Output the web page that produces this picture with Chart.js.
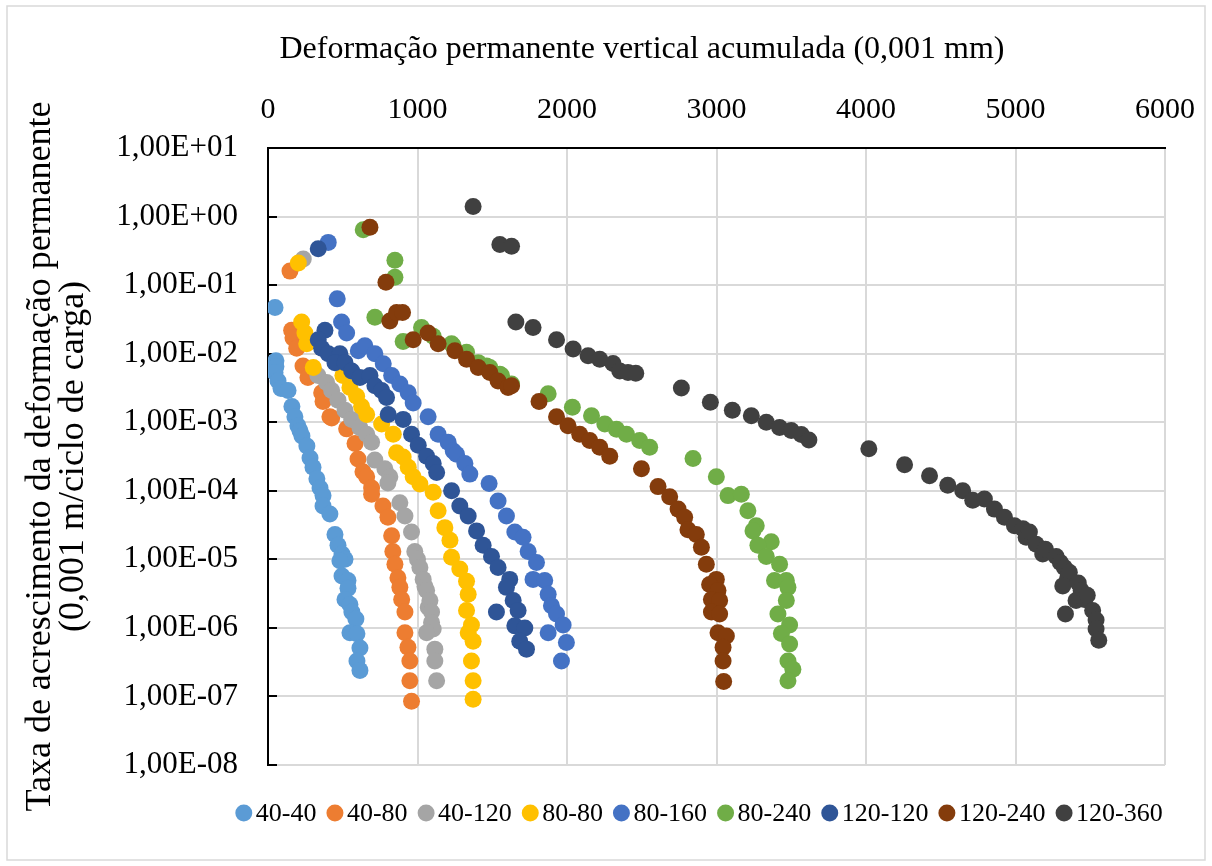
<!DOCTYPE html>
<html lang="pt">
<head>
    <meta charset="UTF-8">
    <title>Taxa de acrescimento da deformação permanente</title>
    <script src="https://cdn.jsdelivr.net/npm/chart.js"></script>
    <style>
        html, body {
            margin: 0;
            padding: 0;
            background: #fff;
        }

        #wrap {
            width: 1212px;
            height: 866px;
        }
    </style>
</head>
<body>
    <div id="wrap">
        <canvas id="chart" width="1212" height="866"></canvas>
    </div>

    <script>
        // Series names and colours (legend order)
        const seriesNames = ['40-40', '40-80', '40-120', '80-80', '80-160', '80-240', '120-120', '120-240', '120-360'];
        const seriesColors = ['#5B9BD5', '#ED7D31', '#A5A5A5', '#FFC000', '#4472C4', '#70AD47', '#2F5597', '#843C0C', '#404040'];

        // Axis ticks
        const xTickValues = [0, 1000, 2000, 3000, 4000, 5000, 6000];
        const xTickLabels = ['0', '1000', '2000', '3000', '4000', '5000', '6000'];
        const yTickValues = [1e-8, 1e-7, 1e-6, 1e-5, 1e-4, 1e-3, 1e-2, 1e-1, 1e0, 1e1];
        const yTickLabels = ['1,00E-08', '1,00E-07', '1,00E-06', '1,00E-05', '1,00E-04', '1,00E-03', '1,00E-02', '1,00E-01', '1,00E+00', '1,00E+01'];

        const xTitle = 'Deformação permanente vertical acumulada (0,001 mm)';
        const yTitle = ['Taxa de acrescimento da deformação permanente', '(0,001 m/ciclo de carga)'];

        // Accumulated deformation (x) and growth rate (y)
        const x40_40 = [47, 53, 53, 47, 67, 87, 134, 160, 180, 200, 214, 227, 260, 281, 301, 327, 348, 368, 368, 414, 448, 468, 495, 515, 481, 495, 535, 535, 515, 548, 561, 588, 548, 595, 615, 595, 615];
        const y40_40 = [4.7e-2, 7.9e-3, 6.5e-3, 5.3e-3, 4.0e-3, 3.1e-3, 2.9e-3, 1.7e-3, 1.2e-3, 8.9e-4, 7.5e-4, 6.3e-4, 4.5e-4, 3.0e-4, 2.2e-4, 1.5e-4, 1.1e-4, 8.5e-5, 6.0e-5, 4.6e-5, 2.3e-5, 1.6e-5, 1.2e-5, 1.0e-5, 9.5e-6, 5.7e-6, 4.9e-6, 3.8e-6, 2.6e-6, 2.2e-6, 1.7e-6, 1.35e-6, 8.5e-7, 8.2e-7, 5.1e-7, 3.3e-7, 2.4e-7];

        const x40_80 = [147, 158, 167, 192, 234, 267, 359, 368, 414, 426, 526, 582, 602, 635, 660, 693, 693, 769, 802, 827, 835, 849, 869, 882, 894, 916, 916, 936, 949, 949, 960];
        const y40_80 = [1.6e-1, 2.2e-2, 1.7e-2, 1.2e-2, 6.6e-3, 4.5e-3, 2.7e-3, 2.0e-3, 1.2e-3, 1.15e-3, 8.0e-4, 4.9e-4, 2.9e-4, 1.9e-4, 1.6e-4, 1.1e-4, 8.9e-5, 6.0e-5, 4.1e-5, 2.2e-5, 1.3e-5, 8.5e-6, 5.4e-6, 3.9e-6, 2.6e-6, 1.7e-6, 8.5e-7, 5.2e-7, 3.3e-7, 1.7e-7, 8.5e-8];

        const x40_120 = [236, 334, 392, 426, 468, 515, 560, 615, 660, 693, 715, 782, 815, 802, 882, 916, 960, 982, 1000, 1016, 1038, 1050, 1061, 1072, 1083, 1094, 1094, 1105, 1061, 1116, 1116, 1128];
        const y40_120 = [2.4e-1, 4.8e-3, 3.8e-3, 2.9e-3, 2.1e-3, 1.5e-3, 1.1e-3, 8.3e-4, 6.7e-4, 5.1e-4, 2.8e-4, 2.1e-4, 1.6e-4, 1.3e-4, 6.7e-5, 4.3e-5, 2.5e-5, 1.3e-5, 1.0e-5, 7.6e-6, 5.1e-6, 4.0e-6, 3.5e-6, 2.0e-6, 2.5e-6, 1.7e-6, 1.2e-6, 9.6e-7, 8.5e-7, 4.9e-7, 3.3e-7, 1.7e-7];

        const x80_80 = [203, 225, 247, 259, 303, 501, 548, 593, 626, 660, 760, 838, 860, 904, 938, 971, 1016, 1105, 1138, 1183, 1217, 1228, 1283, 1328, 1339, 1328, 1361, 1339, 1372, 1361, 1372, 1372];
        const y80_80 = [2.1e-1, 2.9e-2, 2.0e-2, 1.4e-2, 6.3e-3, 4.8e-3, 3.2e-3, 2.4e-3, 1.7e-3, 1.3e-3, 9.4e-4, 6.7e-4, 3.6e-4, 3.1e-4, 2.2e-4, 1.6e-4, 1.26e-4, 9.5e-5, 5.1e-5, 2.9e-5, 1.9e-5, 1.07e-5, 7.2e-6, 4.8e-6, 3.1e-6, 1.8e-6, 1.1e-6, 8.5e-7, 6.4e-7, 3.3e-7, 1.7e-7, 9.1e-8];

        const x80_160 = [403, 463, 492, 526, 604, 648, 715, 771, 827, 882, 938, 971, 1071, 1138, 1205, 1239, 1261, 1317, 1350, 1479, 1539, 1595, 1651, 1706, 1740, 1796, 1773, 1851, 1874, 1896, 1930, 1974, 1874, 1996, 1963];
        const y80_160 = [4.2e-1, 6.3e-2, 2.9e-2, 2.0e-2, 1.1e-2, 1.3e-2, 1.0e-2, 7.1e-3, 4.8e-3, 3.6e-3, 2.7e-3, 1.9e-3, 1.2e-3, 6.7e-4, 5.1e-4, 3.8e-4, 3.4e-4, 2.5e-4, 1.75e-4, 1.28e-4, 7.1e-5, 4.3e-5, 2.5e-5, 2.1e-5, 1.3e-5, 9.0e-6, 5.1e-6, 4.9e-6, 3.1e-6, 2.1e-6, 1.6e-6, 1.1e-6, 8.5e-7, 6.1e-7, 3.3e-7];

        const x80_240 = [637, 849, 849, 715, 904, 1027, 1105, 1228, 1239, 1328, 1406, 1462, 1484, 1551, 1562, 1629, 1874, 2036, 2164, 2253, 2331, 2398, 2486, 2553, 2843, 2999, 3077, 3166, 3210, 3266, 3244, 3366, 3277, 3333, 3422, 3388, 3467, 3478, 3467, 3411, 3489, 3434, 3489, 3478, 3511, 3478];
        const y80_240 = [6.4e-1, 2.3e-1, 1.3e-1, 3.4e-2, 1.5e-2, 2.4e-2, 1.8e-2, 1.4e-2, 1.3e-2, 1.05e-2, 7.4e-3, 6.6e-3, 6.3e-3, 5.0e-3, 4.8e-3, 3.6e-3, 2.6e-3, 1.65e-3, 1.24e-3, 9.4e-4, 7.9e-4, 6.7e-4, 5.4e-4, 4.3e-4, 2.96e-4, 1.6e-4, 8.5e-5, 8.9e-5, 5.1e-5, 3.1e-5, 2.6e-5, 1.8e-5, 1.6e-5, 1.1e-5, 8.5e-6, 4.9e-6, 4.9e-6, 3.9e-6, 2.5e-6, 1.6e-6, 1.1e-6, 8.3e-7, 5.8e-7, 3.3e-7, 2.5e-7, 1.7e-7];

        const x120_120 = [336, 381, 336, 359, 403, 481, 448, 515, 560, 615, 682, 715, 760, 793, 804, 904, 960, 1005, 1061, 1105, 1128, 1228, 1283, 1339, 1395, 1439, 1495, 1539, 1617, 1595, 1640, 1528, 1673, 1651, 1718, 1684, 1729];
        const y120_120 = [3.4e-1, 2.2e-2, 1.6e-2, 1.2e-2, 1.0e-2, 1.0e-2, 7.4e-3, 7.4e-3, 5.6e-3, 4.5e-3, 4.8e-3, 3.4e-3, 2.9e-3, 2.3e-3, 1.3e-3, 1.1e-3, 6.7e-4, 4.6e-4, 3.2e-4, 2.5e-4, 1.85e-4, 1.0e-4, 6.0e-5, 4.3e-5, 2.6e-5, 1.6e-5, 1.1e-5, 7.6e-6, 5.1e-6, 3.9e-6, 2.5e-6, 1.7e-6, 1.8e-6, 1.07e-6, 1.0e-6, 6.4e-7, 4.9e-7];

        const x120_240 = [682, 789, 815, 860, 900, 971, 1071, 1138, 1250, 1328, 1406, 1484, 1539, 1606, 1629, 1813, 1930, 2007, 2085, 2152, 2219, 2286, 2498, 2609, 2687, 2743, 2787, 2809, 2865, 2899, 2932, 2999, 2954, 3010, 2966, 3021, 2966, 3021, 3010, 3066, 3044, 3044, 3048];
        const y120_240 = [7.0e-1, 1.1e-1, 3.0e-2, 4.0e-2, 4.0e-2, 1.6e-2, 2.0e-2, 1.4e-2, 1.1e-2, 8.3e-3, 6.3e-3, 5.3e-3, 4.0e-3, 3.2e-3, 3.4e-3, 2.0e-3, 1.2e-3, 8.9e-4, 6.7e-4, 5.4e-4, 4.3e-4, 3.2e-4, 2.1e-4, 1.15e-4, 8.2e-5, 5.4e-5, 4.1e-5, 2.7e-5, 2.3e-5, 1.5e-5, 8.5e-6, 5.1e-6, 4.3e-6, 3.5e-6, 2.6e-6, 2.5e-6, 1.7e-6, 1.6e-6, 8.5e-7, 7.6e-7, 5.2e-7, 3.3e-7, 1.65e-7];

        const x120_360 = [1372, 1551, 1629, 1658, 1773, 1930, 2041, 2141, 2219, 2308, 2353, 2408, 2460, 2765, 2959, 3106, 3233, 3333, 3422, 3500, 3567, 3618, 4019, 4258, 4425, 4547, 4647, 4714, 4792, 4859, 4926, 4993, 5050, 5071, 5093, 5138, 5182, 5200, 5272, 5300, 5327, 5349, 5360, 5316, 5420, 5439, 5405, 5461, 5480, 5516, 5334, 5539, 5539, 5557];
        const y120_360 = [1.4, 3.9e-1, 3.7e-1, 2.9e-2, 2.4e-2, 1.6e-2, 1.17e-2, 9.3e-3, 8.3e-3, 7.2e-3, 5.6e-3, 5.3e-3, 5.2e-3, 3.15e-3, 1.95e-3, 1.5e-3, 1.24e-3, 1.0e-3, 8.4e-4, 7.6e-4, 6.6e-4, 5.5e-4, 4.1e-4, 2.4e-4, 1.66e-4, 1.2e-4, 1.0e-4, 7.3e-5, 7.6e-5, 5.4e-5, 4.1e-5, 3.1e-5, 2.8e-5, 2.1e-5, 2.5e-5, 1.66e-5, 1.2e-5, 1.4e-5, 1.1e-5, 9.0e-6, 7.6e-6, 5.4e-6, 6.5e-6, 4.1e-6, 4.5e-6, 3.5e-6, 2.5e-6, 2.6e-6, 3.0e-6, 1.8e-6, 1.6e-6, 1.3e-6, 9.6e-7, 6.6e-7];

        const seriesX = [x40_40, x40_80, x40_120, x80_80, x80_160, x80_240, x120_120, x120_240, x120_360];
        const seriesY = [y40_40, y40_80, y40_120, y80_80, y80_160, y80_240, y120_120, y120_240, y120_360];

        const FONT = '"Liberation Serif", "Times New Roman", serif';

        // Build datasets; later series drawn on top like the original
        const datasets = seriesNames.map((name, i) => ({
            label: name,
            data: seriesX[i].map((x, j) => ({ x: x, y: seriesY[i][j] })),
            backgroundColor: seriesColors[i],
            borderColor: seriesColors[i],
            order: seriesNames.length - i
        }));

        // Extra drawing: outer frame, inner y ticks, top title and legend
        const decor = {
            id: 'decor',
            beforeDraw(chart) {
                const ctx = chart.ctx;
                ctx.save();
                ctx.fillStyle = '#fff';
                ctx.fillRect(0, 0, chart.width, chart.height);
                ctx.strokeStyle = '#d9d9d9';
                ctx.lineWidth = 1.5;
                ctx.strokeRect(7, 6, chart.width - 14, chart.height - 12);
                ctx.restore();
            },
            beforeDatasetsDraw(chart) {
                const ctx = chart.ctx;
                const y = chart.scales.y;
                const left = chart.chartArea.left;
                ctx.save();
                ctx.strokeStyle = '#000';
                ctx.lineWidth = 2;
                yTickValues.forEach(v => {
                    const py = Math.round(y.getPixelForValue(v));
                    ctx.beginPath();
                    ctx.moveTo(left, py);
                    ctx.lineTo(left + 9, py);
                    ctx.stroke();
                });
                ctx.restore();
            },
            afterDraw(chart) {
                const ctx = chart.ctx;
                ctx.save();
                ctx.fillStyle = '#000';
                ctx.textBaseline = 'middle';

                // horizontal axis title (axis sits on top)
                ctx.font = '32px ' + FONT;
                ctx.textAlign = 'center';
                ctx.fillText(xTitle, 642, 50);

                // legend along the bottom
                ctx.font = '26px ' + FONT;
                ctx.textAlign = 'left';
                const r = 8.5, textGap = 12, itemGap = 18.5;
                const items = chart.data.datasets.map(d => ({
                    text: d.label,
                    color: d.backgroundColor,
                    w: ctx.measureText(d.label).width
                }));
                let total = r + itemGap * (items.length - 1);
                items.forEach(it => { total += textGap + it.w; });
                let cx = 699 - total / 2 + r;
                const cy = 813;
                items.forEach(it => {
                    ctx.fillStyle = it.color;
                    ctx.beginPath();
                    ctx.arc(cx, cy, r, 0, Math.PI * 2);
                    ctx.fill();
                    ctx.fillStyle = '#000';
                    ctx.fillText(it.text, cx + textGap, cy + 1);
                    cx += textGap + it.w + itemGap;
                });
                ctx.restore();
            }
        };

        const ctx = document.getElementById('chart').getContext('2d');
        new Chart(ctx, {
            type: 'scatter',
            data: { datasets: datasets },
            options: {
                responsive: false,
                animation: false,
                devicePixelRatio: 1,
                layout: { padding: { left: 0, top: 0, right: 47, bottom: 101 } },
                plugins: {
                    legend: { display: false },
                    tooltip: { enabled: false }
                },
                elements: {
                    point: { radius: 8.5, hoverRadius: 8.5, borderWidth: 0 }
                },
                scales: {
                    x: {
                        type: 'linear',
                        position: 'top',
                        min: xTickValues[0],
                        max: xTickValues[xTickValues.length - 1],
                        afterBuildTicks: s => { s.ticks = xTickValues.map(v => ({ value: v })); },
                        ticks: {
                            callback: v => xTickLabels[xTickValues.indexOf(v)],
                            font: { family: FONT, size: 30 },
                            color: '#000',
                            padding: 20,
                            maxRotation: 0
                        },
                        grid: { color: '#d9d9d9', lineWidth: 2, drawTicks: false },
                        border: { color: '#000', width: 2 },
                        afterFit: s => {
                            s.height = 148;
                            s.paddingLeft = 0;
                            s.paddingRight = 0;
                        }
                    },
                    y: {
                        type: 'logarithmic',
                        position: 'left',
                        min: yTickValues[0],
                        max: yTickValues[yTickValues.length - 1],
                        afterBuildTicks: s => { s.ticks = yTickValues.map(v => ({ value: v })); },
                        ticks: {
                            callback: v => yTickLabels[yTickValues.indexOf(v)],
                            font: { family: FONT, size: 31 },
                            color: '#000',
                            padding: 30
                        },
                        grid: {
                            color: c => (c.tick && c.tick.value === 10) ? 'rgba(0,0,0,0)' : '#d9d9d9',
                            lineWidth: 2,
                            drawTicks: false
                        },
                        border: { color: '#000', width: 2 },
                        title: {
                            display: true,
                            text: yTitle,
                            font: { family: FONT, size: 36, lineHeight: 0.92 },
                            color: '#000',
                            padding: { top: 23.5, bottom: 0 }
                        },
                        afterFit: s => {
                            s.width = 268;
                            s.paddingTop = 0;
                            s.paddingBottom = 0;
                        }
                    }
                }
            },
            plugins: [decor]
        });
    </script>
</body>
</html>
